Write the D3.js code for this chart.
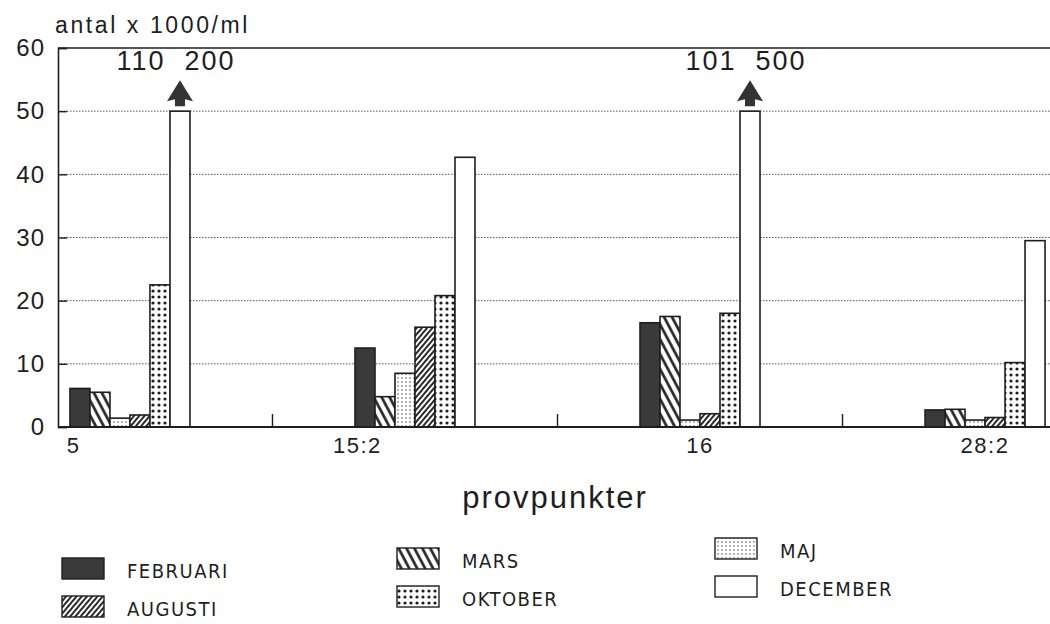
<!DOCTYPE html>
<html><head><meta charset="utf-8">
<script src="https://cdn.jsdelivr.net/npm/d3@7"></script>
<style>
body{margin:0;background:#fff;}
text{font-family:"Liberation Sans",Arial,sans-serif;fill:#1e1e1e;}
.leg{font-family:"Liberation Sans Narrow","DejaVu Sans Condensed","Liberation Sans",sans-serif;}
</style></head>
<body><svg id="c" width="1050" height="624"></svg>
<script>
const categories = ["5", "15:2", "16", "28:2"];
const seriesNames = ["FEBRUARI", "MARS", "MAJ", "AUGUSTI", "OKTOBER", "DECEMBER"];
const februari = [6.1, 12.5, 16.5, 2.7];
const mars     = [5.5, 4.8, 17.5, 2.8];
const maj      = [1.4, 8.5, 1.1, 1.1];
const augusti  = [1.9, 15.8, 2.1, 1.5];
const oktober  = [22.5, 20.8, 18.0, 10.2];
const december = [110.2, 42.7, 101.5, 29.5];
const yTicks = [0, 10, 20, 30, 40, 50, 60];
const capValue = 50;

const values = [februari, mars, maj, augusti, oktober, december];
const svg = d3.select("#c");
const ink = "#1e1e1e";

// patterns
const defs = svg.append("defs");
function linePat(id, w, rot, sw){
  const p = defs.append("pattern").attr("id", id).attr("patternUnits","userSpaceOnUse")
    .attr("width", w).attr("height", w).attr("patternTransform", `rotate(${rot})`);
  p.append("rect").attr("width", w).attr("height", w).attr("fill", "#fff");
  p.append("line").attr("x1", w/2).attr("x2", w/2).attr("y1", 0).attr("y2", w)
    .attr("stroke", ink).attr("stroke-width", sw);
}
function dotPat(id, w, r, col){
  const p = defs.append("pattern").attr("id", id).attr("patternUnits","userSpaceOnUse")
    .attr("width", w).attr("height", w);
  p.append("rect").attr("width", w).attr("height", w).attr("fill", "#fff");
  p.append("circle").attr("cx", w/2).attr("cy", w/2).attr("r", r).attr("fill", col);
}
linePat("pMars", 7, -28, 2.6);
linePat("pAug", 4, 40, 1.9);
dotPat("pMaj", 4, 0.75, "#444");
dotPat("pOkt", 6, 1.6, ink);
const fills = ["#3a3a3a", "url(#pMars)", "url(#pMaj)", "url(#pAug)", "url(#pOkt)", "#fff"];

const y = d3.scaleLinear().domain([0, 60]).range([427, 48]);
const x = d3.scaleBand().domain(categories).range([58, 1057]).paddingInner(0.579).paddingOuter(0.042);
const xs = d3.scaleBand().domain(seriesNames).range([0, x.bandwidth()]);
const left = 58, right = 1050;

// gridlines
const grid = svg.append("g");
yTicks.filter(t => t > 0 && t < 60).forEach(t => {
  grid.append("line").attr("x1", left).attr("x2", right).attr("y1", y(t)).attr("y2", y(t))
    .attr("stroke", "#555").attr("stroke-width", 1).attr("stroke-dasharray", "1.5,1.5");
});
// top line
svg.append("line").attr("x1", left).attr("x2", right).attr("y1", y(60)).attr("y2", y(60))
  .attr("stroke", ink).attr("stroke-width", 1.5);

// y axis
const yAxis = d3.axisLeft(y).tickValues(yTicks).tickSize(-9).tickPadding(13).tickFormat(d3.format("d"));
const ya = svg.append("g").attr("transform", `translate(${left},0)`).call(yAxis);
ya.select(".domain").attr("stroke", ink).attr("stroke-width", 1.6);
ya.selectAll(".tick line").attr("stroke", ink).attr("stroke-width", 1.4);
ya.selectAll(".tick text").attr("font-size", 24).attr("fill", ink).attr("letter-spacing", 1)
  .attr("font-family", "Liberation Sans, Arial, sans-serif");

// bars
const g = svg.append("g");
categories.forEach((c, i) => {
  seriesNames.forEach((s, j) => {
    const v = Math.min(values[j][i], capValue);
    g.append("rect").attr("x", x(c) + xs(s)).attr("width", xs.bandwidth())
      .attr("y", y(v)).attr("height", y(0) - y(v))
      .attr("fill", fills[j]).attr("stroke", ink).attr("stroke-width", 1.6);
  });
  // capped bars: arrow + real value
  const dv = december[i];
  if (dv > capValue) {
    const cx = x(c) + xs("DECEMBER") + xs.bandwidth()/2;
    const top = y(capValue);
    g.append("path")
      .attr("d", `M${cx},${top-31} L${cx+13},${top-10} L${cx+5},${top-12} L${cx+5},${top-5} L${cx-5},${top-5} L${cx-5},${top-12} L${cx-13},${top-10} Z`)
      .attr("fill", "#333");
    const label = d3.format(",")(Math.round(dv*1000)).replace(/,/g, "  ");
    g.append("text").attr("x", cx - 4).attr("y", top - 41).attr("text-anchor", "middle")
      .attr("font-size", 27).attr("letter-spacing", 2).style("white-space", "pre").text(label);
  }
});

// baseline
svg.append("line").attr("x1", left).attr("x2", right).attr("y1", y(0)).attr("y2", y(0))
  .attr("stroke", ink).attr("stroke-width", 1.8);
// small group-separator ticks
for (let i = 0; i < categories.length - 1; i++) {
  const mx = (x(categories[i]) + x.bandwidth() + x(categories[i+1])) / 2;
  svg.append("line").attr("x1", mx).attr("x2", mx).attr("y1", y(0)).attr("y2", y(0) - 13)
    .attr("stroke", ink).attr("stroke-width", 1.4);
}
// category labels
const labelPos = [0.03, 0.02, 0.5, 0.5];
categories.forEach((c, i) => {
  svg.append("text").attr("x", x(c) + labelPos[i]*x.bandwidth()).attr("y", 453)
    .attr("text-anchor", "middle").attr("font-size", 22).attr("letter-spacing", 1.5).text(c);
});

// titles
svg.append("text").attr("x", 55).attr("y", 33).attr("font-size", 23).attr("letter-spacing", 2.6).text("antal x 1000/ml");
svg.append("text").attr("x", 555).attr("y", 508).attr("text-anchor", "middle").attr("font-size", 31).attr("letter-spacing", 2).text("provpunkter");

// legend (3 columns x 2 rows)
const legCols = [62, 397, 715], legRows = [558, 596];
seriesNames.forEach((s, j) => {
  const col = j % 3, row = Math.floor(j / 3);
  const lx = legCols[col], ly = legRows[row] - col*10;
  svg.append("rect").attr("x", lx).attr("y", ly).attr("width", 42).attr("height", 21)
    .attr("fill", fills[j]).attr("stroke", ink).attr("stroke-width", 1.4);
  svg.append("text").attr("class", "leg").attr("x", lx + 65).attr("y", ly + 20)
    .attr("font-size", 20).attr("letter-spacing", 1.5).text(s);
});
</script></body></html>
